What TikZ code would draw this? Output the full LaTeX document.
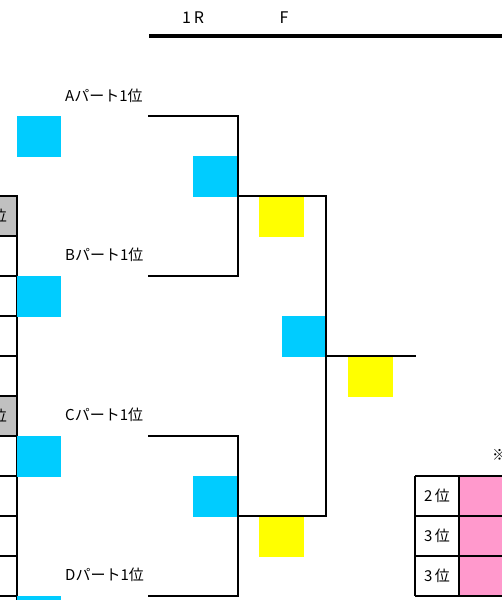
\documentclass[tikz,border=0pt]{standalone}
\usepackage{fontspec}
\setmainfont{Noto Sans CJK JP}
\usetikzlibrary{positioning}
\definecolor{seedcyan}{HTML}{00CCFF}
\definecolor{winyellow}{HTML}{FFFF00}
\definecolor{rankpink}{HTML}{FF99CC}
\definecolor{cellgray}{HTML}{C0C0C0}
\tikzset{
    bracket/.style={line width=2.2pt, line cap=rect},
    grid line/.style={line width=2pt},
    square/.style={inner sep=0pt, anchor=north west, minimum width=44pt, minimum height=41pt},
    seed square/.style={square, fill=seedcyan},
    win square/.style={square, fill=winyellow, minimum width=45pt, minimum height=40pt},
    part label/.style={anchor=west, inner sep=0pt, font=\fontsize{15}{15}\selectfont},
    cell label/.style={inner sep=0pt, font=\fontsize{15}{15}\selectfont\addfontfeatures{LetterSpace=15}},
    head label/.style={inner sep=0pt, font=\fontsize{16}{16}\selectfont\addfontfeatures{LetterSpace=18}}
}
\begin{document}
\begin{tikzpicture}[x=1pt, y=-1pt]
    \useasboundingbox (0,0) rectangle (502,600);
    % header
    \node[head label] (round1) at (193,18) {1R};
    \node[head label] (final) at (284,18) {F};
    \coordinate (head start) at (149,36);
    \coordinate (head end) at (505,36);
    \draw[line width=3.5pt] (head start) -- (head end);
    % left table
    \fill[cellgray] (-40,196) rectangle (17,236);
    \fill[cellgray] (-40,396) rectangle (17,436);
    \foreach \row in {0,...,10}
        \draw[grid line] (-40,196+40*\row) -- (17,196+40*\row);
    \draw[grid line] (17,195) -- (17,602);
    \node[cell label, anchor=east] (rank top) at (7,216) {位};
    \node[cell label, anchor=east] (rank mid) at (7,416) {位};
    % squares
    \node[seed square] (seedA) at (17,116) {};
    \node[seed square] (seedB) at (17,276) {};
    \node[seed square] (seedC) at (17,436) {};
    \node[seed square] (seedD) at (17,596) {};
    \node[seed square] (semi1) at (193,156) {};
    \node[seed square] (semi2) at (193,476) {};
    \node[seed square] (champ) at (282,316) {};
    \node[win square] (win1) at (259,197) {};
    \node[win square] (win2) at (259,517) {};
    \node[win square] (winF) at (348,357) {};
    % part labels
    \node[part label] (partA) at (65,96) {Aパート1位};
    \node[part label] (partB) at (65,255) {Bパート1位};
    \node[part label] (partC) at (65,415) {Cパート1位};
    \node[part label] (partD) at (65,575) {Dパート1位};
    % bracket
    \coordinate (a) at (149,116);
    \coordinate (b) at (149,276);
    \coordinate (c) at (149,436);
    \coordinate (d) at (149,596);
    \coordinate (ab) at (238,196);
    \coordinate (cd) at (238,516);
    \coordinate (top) at (326,196);
    \coordinate (bottom) at (326,516);
    \coordinate (mid) at (326,356);
    \coordinate (out) at (415,356);
    \draw[bracket] (a) -| (ab) |- (b);
    \draw[bracket] (c) -| (cd) |- (d);
    \draw[bracket] (ab) -- (top) -- (bottom) -- (cd);
    \draw[bracket] (mid) -- (out);
    % bottom right table
    \node[part label] (note) at (492,455) {※};
    \fill[rankpink] (459,476) rectangle (510,596);
    \foreach \row in {0,...,3}
        \draw[grid line] (415,476+40*\row) -- (510,476+40*\row);
    \draw[grid line] (415,476) -- (415,596);
    \draw[grid line] (459,476) -- (459,596);
    \node[cell label] (second) at (437,496) {2位};
    \node[cell label] (third1) at (437,536) {3位};
    \node[cell label] (third2) at (437,576) {3位};
\end{tikzpicture}
\end{document}
